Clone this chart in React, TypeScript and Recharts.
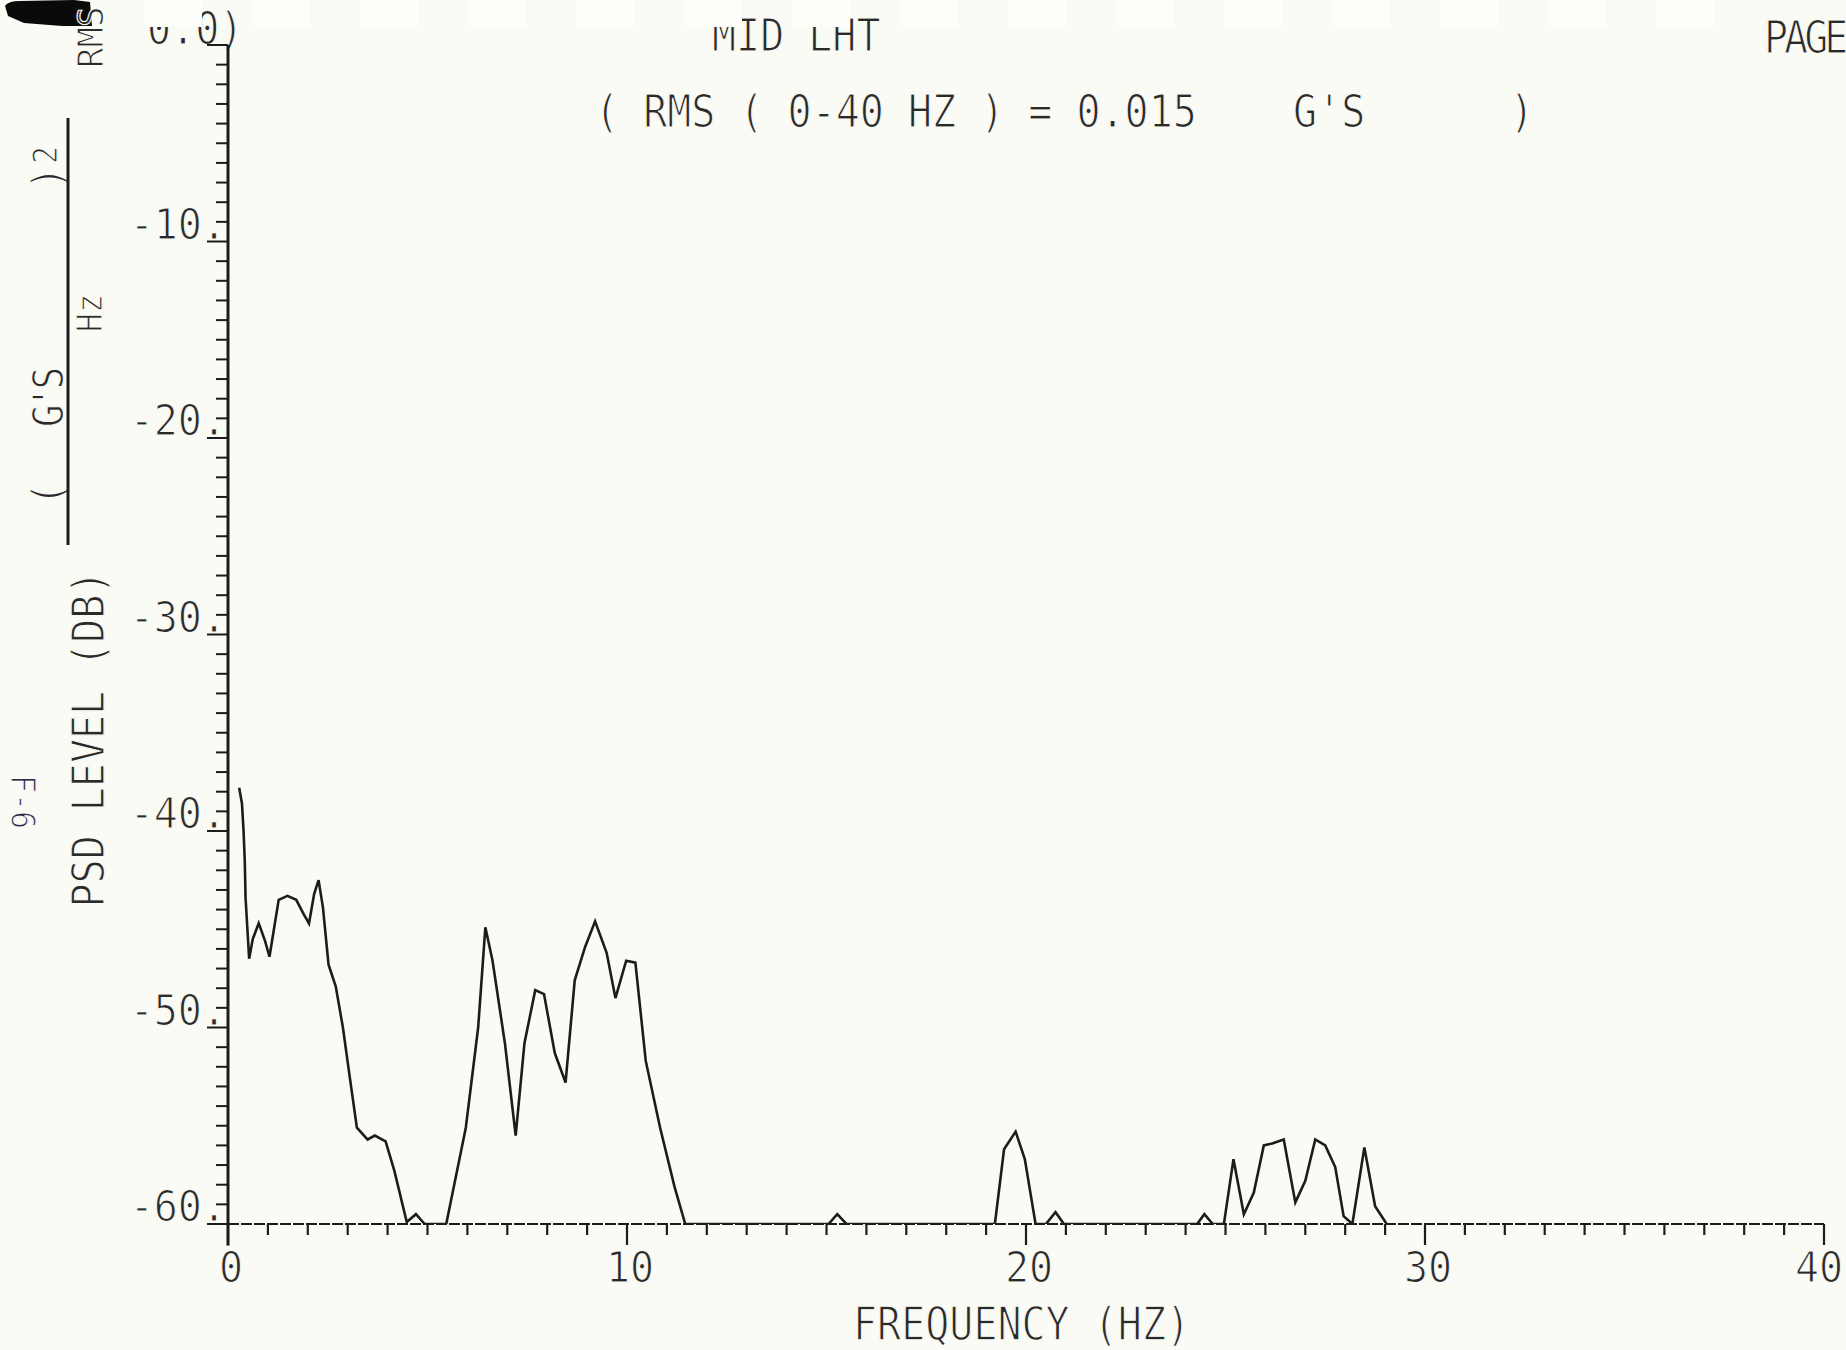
import React from 'react';
import { LineChart, Line, XAxis, YAxis, ReferenceLine, Customized } from 'recharts';

// ---- data ----
const freqHz = [
  0.28, 0.35, 0.39, 0.42, 0.44, 0.53, 0.62, 0.77, 0.93, 1.04,
  1.27, 1.49, 1.71, 1.89, 2.03, 2.16, 2.27, 2.38, 2.52, 2.70,
  2.88, 3.05, 3.23, 3.50, 3.68, 3.95, 4.17, 4.48, 4.71, 4.93,
  5.47, 5.96, 6.27, 6.45, 6.63, 6.94, 7.21, 7.43, 7.70, 7.92,
  8.19, 8.46, 8.69, 8.95, 9.20, 9.49, 9.71, 9.98, 10.21, 10.47,
  10.83, 11.19, 11.46, 15.05, 15.27, 15.50, 19.22, 19.45, 19.74, 19.97,
  20.24, 20.50, 20.74, 20.95, 24.29, 24.47, 24.68, 24.96, 25.20, 25.46,
  25.71, 25.96, 26.17, 26.46, 26.75, 27.00, 27.25, 27.50, 27.75, 27.96,
  28.18, 28.48, 28.75, 29.04,
];
const psdDb = [
  -37.8, -38.6, -40.0, -41.5, -43.4, -46.5, -45.5, -44.7, -45.6, -46.4,
  -43.5, -43.3, -43.5, -44.2, -44.7, -43.2, -42.5, -43.9, -46.8, -47.9,
  -50.0, -52.5, -55.1, -55.7, -55.5, -55.8, -57.3, -59.9, -59.5, -60.0,
  -60.0, -55.1, -50.0, -44.9, -46.6, -50.8, -55.5, -50.8, -48.1, -48.3,
  -51.3, -52.8, -47.6, -45.9, -44.6, -46.2, -48.5, -46.6, -46.7, -51.7,
  -55.1, -58.1, -60.0, -60.0, -59.5, -60.0, -60.0, -56.2, -55.3, -56.7,
  -60.0, -60.0, -59.4, -60.0, -60.0, -59.5, -60.0, -60.0, -56.7, -59.5,
  -58.4, -56.0, -55.9, -55.7, -58.9, -57.8, -55.7, -56.0, -57.1, -59.6,
  -60.0, -56.1, -59.1, -60.0,
];
const xMajor = [0, 10, 20, 30, 40];
const yMajor = [-60, -50, -40, -30, -20, -10];
const xTicks = Array.from({ length: 41 }, (_, i) => i);
const yTicks = Array.from({ length: 61 }, (_, i) => i - 60);

const data = freqHz.map((f, i) => ({ f, db: psdDb[i] }));

const INK = '#1c1c1c';
const TXT = '#2a2a2a';
const PAPER = '#fbfbf5';
const FONT = "'DejaVu Sans Mono', 'Liberation Mono', monospace";

function PT({ x, y, rot = 0, anchor = 'start', size = 40, sy = 1.1, fill = TXT, ls = 0, children }: any) {
  return (
    <text
      transform={`translate(${x} ${y}) rotate(${rot}) scale(1 ${sy})`}
      textAnchor={anchor}
      fontFamily={FONT}
      fontSize={size}
      fill={fill}
      stroke={PAPER}
      strokeWidth={1.1}
      letterSpacing={ls}
      xmlSpace="preserve"
      style={{ whiteSpace: 'pre' }}
    >
      {children}
    </text>
  );
}

function XTick(props: any) {
  const { x, y, payload } = props;
  const v = payload.value;
  const major = xMajor.includes(v);
  const lx = v === 40 ? x - 5 : x + 3;
  return (
    <g>
      <line x1={x} y1={y} x2={x} y2={y + (major ? 21 : 11)} stroke={INK} strokeWidth={2.2} />
      {major && (
        <PT x={lx} y={y + 58} anchor="middle" sy={1.05}>
          {String(v)}
        </PT>
      )}
    </g>
  );
}

function YTick(props: any) {
  const { x, y, payload } = props;
  const v = payload.value;
  const major = v % 10 === 0;
  return (
    <g>
      <line x1={x} y1={y} x2={x - (major ? 21 : 12)} y2={y} stroke={INK} strokeWidth={2} />
      {yMajor.includes(v) && (
        <PT x={x - 2} y={y - 3} anchor="end" sy={1.05}>
          {`${v}.`}
        </PT>
      )}
    </g>
  );
}

function Decor() {
  const patches = Array.from({ length: 15 }, (_, k) => 144 + 108 * k);
  return (
    <g>
      {/* header */}
      <PT x={712} y={51}>MID LHT</PT>
      <PT x={595} y={127}>{"( RMS ( 0-40 HZ ) = 0.015    G'S      )"}</PT>
      <PT x={1764} y={53} ls={-4}>PAGE</PT>
      <PT x={147} y={44}>0.0)</PT>

      {/* redaction mark */}
      <path d="M5 6 Q8 1 20 1 L74 0 L90 2 L92 26 L62 26 L24 23 L8 16 Z" fill="#0a0a0a" />

      {/* top-left rotated RMS */}
      <PT x={103} y={68} rot={-90} size={34} sy={1.05}>RMS</PT>

      {/* y-axis unit fraction */}
      <PT x={63} y={494} rot={-90} anchor="middle" size={38}>(</PT>
      <PT x={63} y={399} rot={-90} anchor="middle" size={38} ls={-4}>{"G'S"}</PT>
      <PT x={63} y={178} rot={-90} anchor="middle" size={38}>)</PT>
      <PT x={57} y={155} rot={-90} anchor="middle" size={30}>2</PT>
      <line x1={68} y1={118} x2={68} y2={545} stroke={INK} strokeWidth={3} />
      <PT x={102} y={313} rot={-90} anchor="middle" size={32}>Hz</PT>

      {/* axis titles */}
      <PT x={104} y={739} rot={-90} anchor="middle" sy={1.1}>PSD LEVEL (DB)</PT>
      <PT x={853} y={1340} sy={1.15}>FREQUENCY (HZ)</PT>

      {/* margin note */}
      <PT x={11} y={802} rot={90} anchor="middle" size={30} sy={1.1} fill="#2c2c4a">F-6</PT>

      {/* faint patches at the top edge */}
      {patches.map((px) => (
        <rect key={px} x={px} y={0} width={58} height={27} fill="#fdfdf9" />
      ))}
    </g>
  );
}

export default function App() {
  return (
    <div style={{ width: 1846, height: 1350, background: PAPER, overflow: 'hidden' }}>
      <style>{`body{margin:0;background:${PAPER};}`}</style>
      <LineChart
        width={1846}
        height={1350}
        data={data}
        margin={{ top: 45, right: 22, bottom: 0, left: 0 }}
      >
        <XAxis
          type="number"
          dataKey="f"
          domain={[0, 40]}
          ticks={xTicks}
          interval={0}
          tickLine={false}
          tickSize={0}
          tickMargin={0}
          height={126}
          axisLine={{ stroke: INK, strokeWidth: 2, strokeDasharray: '11 2' }}
          tick={XTick}
          allowDataOverflow
        />
        <YAxis
          type="number"
          domain={[-60, 0]}
          ticks={yTicks}
          interval={0}
          tickLine={false}
          tickSize={0}
          tickMargin={0}
          width={228}
          axisLine={{ stroke: INK, strokeWidth: 3 }}
          tick={YTick}
          allowDataOverflow
        />
        <ReferenceLine
          segment={[{ x: 0, y: -60 }, { x: 0, y: -61.1 }]}
          ifOverflow="visible"
          stroke={INK}
          strokeWidth={3}
        />
        <Line
          type="linear"
          dataKey="db"
          stroke={INK}
          strokeWidth={2.6}
          dot={false}
          isAnimationActive={false}
        />
        <Customized component={Decor} />
      </LineChart>
    </div>
  );
}
